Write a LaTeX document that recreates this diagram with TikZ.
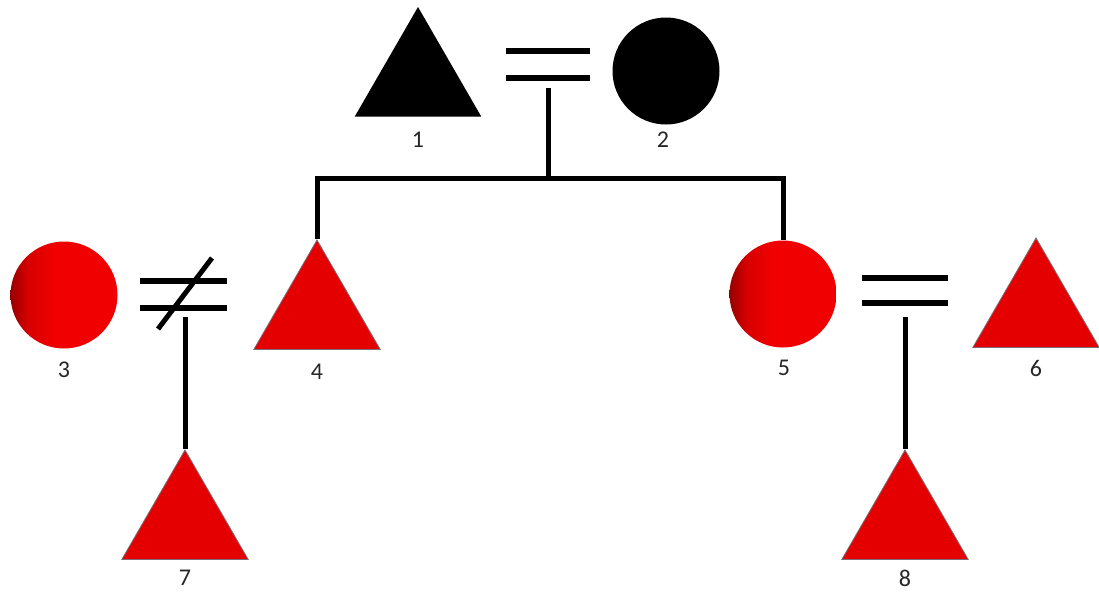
\documentclass[tikz,border=0pt]{standalone}
\usepackage{fontspec}
\setmainfont{Carlito}
\usetikzlibrary{shapes.geometric}
\definecolor{tri}{RGB}{228,0,0}
\definecolor{triedge}{RGB}{120,110,120}
\definecolor{dred}{RGB}{150,0,0}
\definecolor{mred}{RGB}{215,0,0}
\definecolor{bred}{RGB}{240,0,0}
\pgfdeclarehorizontalshading{redball}{100bp}{color(0bp)=(dred); color(25bp)=(dred); color(33bp)=(mred); color(45bp)=(bred); color(100bp)=(bred)}
\tikzset{
  male/.style={regular polygon, regular polygon sides=3, minimum size=146pt, inner sep=0pt, fill=tri, draw=triedge, line width=0.8pt},
  blackmale/.style={regular polygon, regular polygon sides=3, minimum size=146pt, inner sep=0pt, fill=black},
  female/.style={circle, minimum size=107pt, inner sep=0pt, shading=redball},
  blackfemale/.style={circle, minimum size=107pt, inner sep=0pt, fill=black},
  lbl/.style={font=\fontsize{24}{28}\selectfont, text=black!85},
  tree/.style={line width=5pt},
  bar/.style={line width=6pt}
}
\begin{document}
\begin{tikzpicture}[x=1pt,y=-1pt]
\useasboundingbox (0,0) rectangle (1099,592);
% persons
\node[blackmale] (p1) at (418,80) {};
\node[blackfemale] (p2) at (666,71) {};
\node[female] (p3) at (64,295) {};
\node[male] (p4) at (317,313) {};
\node[female] (p5) at (783,294) {};
\node[male] (p6) at (1036,311) {};
\node[male] (p7) at (185,523) {};
\node[male] (p8) at (905,523) {};
% labels
\node[lbl] (l1) at (418,140) {1};
\node[lbl] (l2) at (663,140) {2};
\node[lbl] (l3) at (64,370) {3};
\node[lbl] (l4) at (317,372) {4};
\node[lbl] (l5) at (784,368) {5};
\node[lbl] (l6) at (1036,368) {6};
\node[lbl] (l7) at (185,578) {7};
\node[lbl] (l8) at (905,578) {8};
% marriage 1=2
\coordinate (a1) at (506,51); \coordinate (b1) at (590,51);
\coordinate (a2) at (506,78); \coordinate (b2) at (590,78);
\draw[bar] (a1) -- (b1);
\draw[bar] (a2) -- (b2);
\coordinate (m12) at (548,88);
\coordinate (sib) at (548,178);
\draw[tree] (m12) -- (sib);
\draw[tree] (p4.corner 1) |- (sib) -| (p5.north);
% divorce 3/4
\coordinate (c1) at (140,281); \coordinate (d1) at (227,281);
\coordinate (c2) at (140,308); \coordinate (d2) at (227,308);
\coordinate (s1) at (158,329); \coordinate (s2) at (212,258);
\draw[bar] (c1) -- (d1);
\draw[bar] (c2) -- (d2);
\draw[line width=5pt] (s1) -- (s2);
\coordinate (m34) at (185,317);
\draw[tree] (m34) -- (p7.corner 1);
% marriage 5=6
\coordinate (e1) at (862,278); \coordinate (f1) at (948,278);
\coordinate (e2) at (862,303); \coordinate (f2) at (948,303);
\draw[bar] (e1) -- (f1);
\draw[bar] (e2) -- (f2);
\coordinate (m56) at (905,317);
\draw[tree] (m56) -- (p8.corner 1);
\end{tikzpicture}
\end{document}
